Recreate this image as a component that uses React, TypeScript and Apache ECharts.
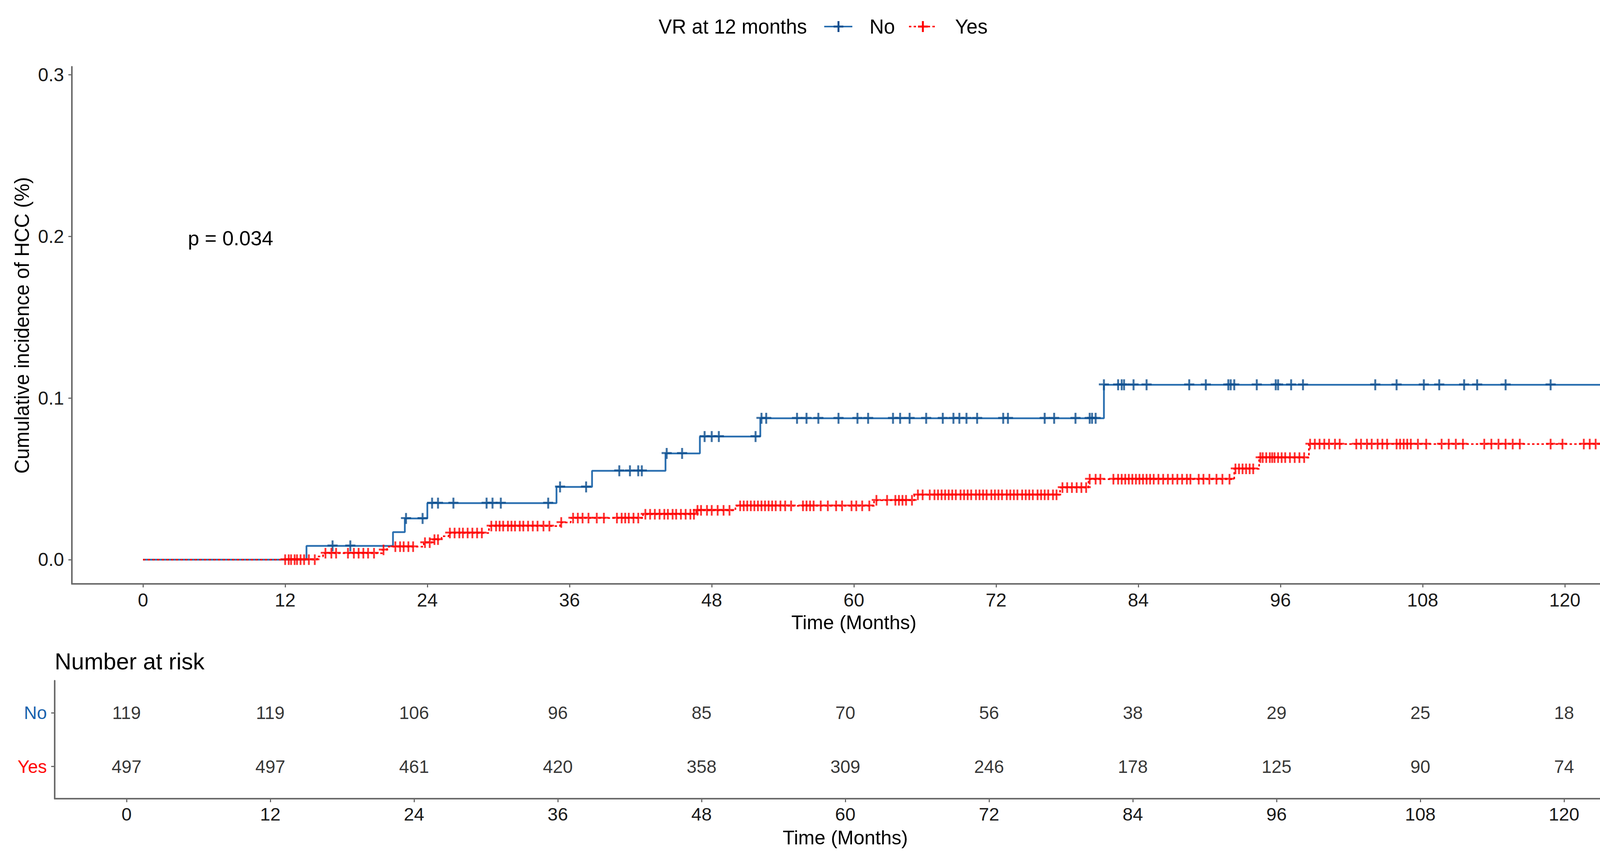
import React, { useEffect, useRef } from "react";
import * as echarts from "echarts";

const FONT = "'Liberation Sans', Arial, Helvetica, sans-serif";
const BLUE_LINE = "#2A6FB0";
const BLUE_MARK = "#0E4F8F";
const RED = "#FF0000";
const AXIS = "#6b6b6b";

// Tick labels (months)
const monthTicks = [0, 12, 24, 36, 48, 60, 72, 84, 96, 108, 120];
const yTicks = [0, 0.1, 0.2, 0.3];

// Number at risk
const riskNo = [119, 119, 106, 96, 85, 70, 56, 38, 29, 25, 18];
const riskYes = [497, 497, 461, 420, 358, 309, 246, 178, 125, 90, 74];

// Step curves [time, cumulative incidence]
const noSteps: [number, number][] = [
  [0, 0], [13.8, 0.0085], [21.1, 0.017], [22.1, 0.0255], [24.0, 0.035],
  [34.9, 0.045], [37.9, 0.055], [44.1, 0.0657], [47.0, 0.0762],
  [52.1, 0.0875], [81.1, 0.1082], [126, 0.1082],
];
const yesSteps: [number, number][] = [
  [0, 0], [14.7, 0.002], [15.2, 0.004], [20.2, 0.006], [20.6, 0.008],
  [23.7, 0.0105], [24.4, 0.0124], [25.2, 0.0145], [25.8, 0.0165],
  [29.2, 0.0208], [35.2, 0.023], [36.1, 0.0257], [42.2, 0.0281],
  [46.7, 0.0305], [50.0, 0.0333], [61.7, 0.0367], [65.1, 0.0401],
  [77.4, 0.0446], [79.8, 0.0498], [92.1, 0.0562], [94.2, 0.0631],
  [98.4, 0.0715], [126, 0.0715],
];

// Censoring times
const noCensor = [
  16.0, 17.5, 22.2, 23.6, 24.4, 24.9, 26.2, 29.0, 29.5, 30.2, 34.2,
  35.2, 37.4, 40.2, 41.1, 41.8, 42.1, 44.2, 45.5, 47.4, 48.0, 48.6, 51.7,
  52.2, 52.6, 55.2, 56.0, 57.0, 58.7, 60.3, 61.2, 63.3, 63.9, 64.7, 66.1,
  67.5, 68.4, 68.9, 69.5, 70.4, 72.6, 73.0, 76.1, 76.9, 78.7, 79.9, 80.1, 80.4,
  81.1, 82.3, 82.6, 82.8, 83.6, 84.7, 88.3, 89.7, 91.6, 91.8, 92.1, 94.0,
  95.6, 95.8, 96.9, 97.9, 104.0, 105.8, 108.1, 109.4, 111.5, 112.6, 115.0,
  118.8, 123.4, 125.3,
];
const yesCensor = [
  12.0, 12.3, 12.5, 12.8, 13.0, 13.3, 13.6, 14.0, 14.5,
  15.4, 15.9, 16.3, 17.3, 17.8, 18.2, 18.6, 19.0, 19.5,
  20.3, 21.3, 21.7, 22.0, 22.4, 22.8, 23.8, 24.2, 24.6, 24.9,
  25.9, 26.3, 26.7, 27.0, 27.4, 27.8, 28.2, 28.6,
  29.4, 29.8, 30.1, 30.4, 30.8, 31.1, 31.4, 31.8, 32.1, 32.5, 32.9, 33.3, 33.8, 34.3,
  35.3, 36.3, 36.7, 37.1, 37.6, 38.3, 38.9, 40.0, 40.4, 40.7, 41.0, 41.4, 41.8,
  42.4, 42.8, 43.2, 43.6, 44.0, 44.3, 44.7, 45.0, 45.4, 45.8, 46.2, 46.5,
  46.8, 47.1, 47.6, 48.0, 48.5, 49.0, 49.5,
  50.4, 50.7, 51.0, 51.3, 51.6, 51.9, 52.2, 52.5, 52.8, 53.1, 53.4, 53.8, 54.2, 54.7,
  55.7, 56.0, 56.3, 56.6, 57.2, 57.8, 58.5, 59.0, 59.8, 60.2, 60.7, 61.3,
  61.9, 62.8, 63.5, 63.8, 64.1, 64.4, 64.9,
  65.4, 65.8, 66.4, 66.8, 67.1, 67.4, 67.7, 68.0, 68.3, 68.6, 69.0, 69.3, 69.6,
  69.9, 70.3, 70.6, 70.9, 71.2, 71.6, 71.9, 72.2, 72.5, 72.9, 73.2, 73.5, 73.8,
  74.2, 74.5, 74.8, 75.1, 75.5, 75.8, 76.1, 76.4, 76.8, 77.1,
  77.6, 78.0, 78.4, 78.8, 79.2, 79.6,
  79.9, 80.4, 80.8, 81.9, 82.3, 82.6, 82.9, 83.2, 83.5, 83.8, 84.1, 84.4, 84.7,
  85.0, 85.3, 85.7, 86.1, 86.5, 86.9, 87.3, 87.7, 88.1, 88.4, 89.1, 89.5, 90.0,
  90.6, 91.1, 91.7,
  92.2, 92.5, 92.8, 93.1, 93.4, 93.7,
  94.3, 94.5, 94.8, 95.1, 95.3, 95.5, 95.8, 96.1, 96.4, 96.8, 97.2, 97.6, 98.0,
  98.5, 98.9, 99.3, 99.7, 100.1, 100.6, 101.0, 102.4, 102.8, 103.3, 103.7, 104.2,
  104.6, 105.0, 105.8, 106.1, 106.4, 106.7, 107.0, 107.6, 108.3, 109.6, 110.2,
  110.8, 111.4, 113.2, 113.8, 114.4, 115.0, 115.6, 116.2, 118.8, 119.8,
  121.6, 122.1, 122.6, 123.1, 123.5, 124.0, 124.4, 125.1, 125.7,
];

const PLUS = "path://M0,10.5H26V15.5H0Z M10.5,0H15.5V28H10.5Z";

function levelAt(steps: [number, number][], t: number) {
  let v = 0;
  for (const [x, y] of steps) if (x <= t) v = y;
  return v;
}

export default function App() {
  const ref = useRef<HTMLDivElement>(null);
  useEffect(() => {
    document.body.style.margin = "0";
    const chart = echarts.init(ref.current!, null, { renderer: "svg" });
    const axisLine = { show: true, onZero: false, lineStyle: { color: AXIS, width: 4 } };
    const axisTick = { show: true, length: 9, lineStyle: { color: AXIS, width: 3 } };
    const tickLabel = { fontFamily: FONT, fontSize: 48, color: "#1a1a1a" };

    const riskData: any[] = [];
    monthTicks.forEach((m, i) => {
      riskData.push([m, 2, riskNo[i]]);
      riskData.push([m, 1, riskYes[i]]);
    });

    const textStyle = (text: string, size: number, extra: any = {}) => ({
      text, fontFamily: FONT, fontSize: size, fill: "#000",
      align: "left", verticalAlign: "middle", ...extra,
    });

    chart.setOption({
      animation: false,
      backgroundColor: "#fff",
      grid: [
        { left: 184, top: 171, width: 4004, height: 1324 },
        { left: 140, top: 1743, width: 4048, height: 302 },
      ],
      xAxis: [
        {
          gridIndex: 0, type: "value", min: -6, max: 126,
          axisLine, axisTick: { ...axisTick, customValues: monthTicks },
          axisLabel: { ...tickLabel, margin: 17, customValues: monthTicks },
          splitLine: { show: false },
        },
        {
          gridIndex: 1, type: "value", min: -6, max: 126,
          axisLine, axisTick: { ...axisTick, customValues: monthTicks },
          axisLabel: { ...tickLabel, fontSize: 47, margin: 16, customValues: monthTicks },
          splitLine: { show: false },
        },
      ],
      yAxis: [
        {
          gridIndex: 0, type: "value", min: -0.015, max: 0.305,
          axisLine, axisTick: { ...axisTick, customValues: yTicks },
          axisLabel: {
            ...tickLabel, margin: 20, customValues: yTicks,
            formatter: (v: number) => v.toFixed(1),
          },
          splitLine: { show: false },
        },
        {
          gridIndex: 1, type: "value", min: 0.4, max: 2.6,
          axisLine, axisTick: { ...axisTick, customValues: [1, 2] },
          axisLabel: {
            fontFamily: FONT, fontSize: 46, margin: 20, customValues: [1, 2],
            formatter: (v: number) => (v === 2 ? "{no|No}" : "{yes|Yes}"),
            rich: {
              no: { color: "#1A63AD", fontFamily: FONT, fontSize: 46 },
              yes: { color: RED, fontFamily: FONT, fontSize: 46 },
            },
          },
          splitLine: { show: false },
        },
      ],
      series: [
        {
          name: "No", type: "line", step: "end", xAxisIndex: 0, yAxisIndex: 0,
          data: noSteps, showSymbol: false, symbol: "none",
          lineStyle: { color: BLUE_LINE, width: 4.5 }, z: 2,
        },
        {
          name: "Yes", type: "line", step: "end", xAxisIndex: 0, yAxisIndex: 0,
          data: yesSteps, showSymbol: false, symbol: "none",
          lineStyle: { color: RED, width: 4, type: [6, 6] }, z: 3,
        },
        {
          name: "No censored", type: "scatter", xAxisIndex: 0, yAxisIndex: 0,
          data: noCensor.map((t) => [t, levelAt(noSteps, t)]),
          symbol: PLUS, symbolSize: [26, 28],
          itemStyle: { color: BLUE_MARK }, z: 4,
        },
        {
          name: "Yes censored", type: "scatter", xAxisIndex: 0, yAxisIndex: 0,
          data: yesCensor.map((t) => [t, levelAt(yesSteps, t)]),
          symbol: PLUS, symbolSize: [24, 27],
          itemStyle: { color: RED }, z: 5,
        },
        {
          name: "Risk", type: "scatter", xAxisIndex: 1, yAxisIndex: 1,
          data: riskData, symbolSize: 1, itemStyle: { color: "rgba(0,0,0,0)" },
          label: {
            show: true, position: "inside", fontFamily: FONT, fontSize: 46, color: "#000",
            formatter: (p: any) => String(p.value[2]),
          },
        },
      ],
      graphic: [
        // Legend
        { type: "text", x: 1686, y: 68, style: textStyle("VR at 12 months", 51) },
        { type: "line", shape: { x1: 2110, y1: 68, x2: 2182, y2: 68 }, style: { stroke: BLUE_LINE, lineWidth: 4 } },
        { type: "rect", shape: { x: 2134, y: 65.5, width: 25, height: 5 }, style: { fill: BLUE_MARK } },
        { type: "rect", shape: { x: 2144, y: 54, width: 5, height: 28 }, style: { fill: BLUE_MARK } },
        { type: "text", x: 2226, y: 68, style: textStyle("No", 51) },
        { type: "line", shape: { x1: 2327, y1: 68, x2: 2397, y2: 68 }, style: { stroke: RED, lineWidth: 4, lineDash: [6, 6] } },
        { type: "rect", shape: { x: 2350, y: 65.5, width: 25, height: 5 }, style: { fill: RED } },
        { type: "rect", shape: { x: 2360, y: 54, width: 5, height: 28 }, style: { fill: RED } },
        { type: "text", x: 2445, y: 68, style: textStyle("Yes", 51) },
        // p value
        { type: "text", x: 481, y: 610, style: textStyle("p = 0.034", 52) },
        // Axis titles
        { type: "text", x: 2186, y: 1594, style: textStyle("Time (Months)", 50, { align: "center" }) },
        {
          type: "text", x: 56, y: 833, rotation: Math.PI / 2,
          style: textStyle("Cumulative incidence of HCC (%)", 51, { align: "center" }),
        },
        // Risk table
        { type: "text", x: 140, y: 1694, style: textStyle("Number at risk", 59) },
        { type: "text", x: 2164, y: 2145, style: textStyle("Time (Months)", 50, { align: "center" }) },
      ],
    });
    return () => chart.dispose();
  }, []);
  return <div ref={ref} style={{ width: 4236, height: 2202 }} />;
}
